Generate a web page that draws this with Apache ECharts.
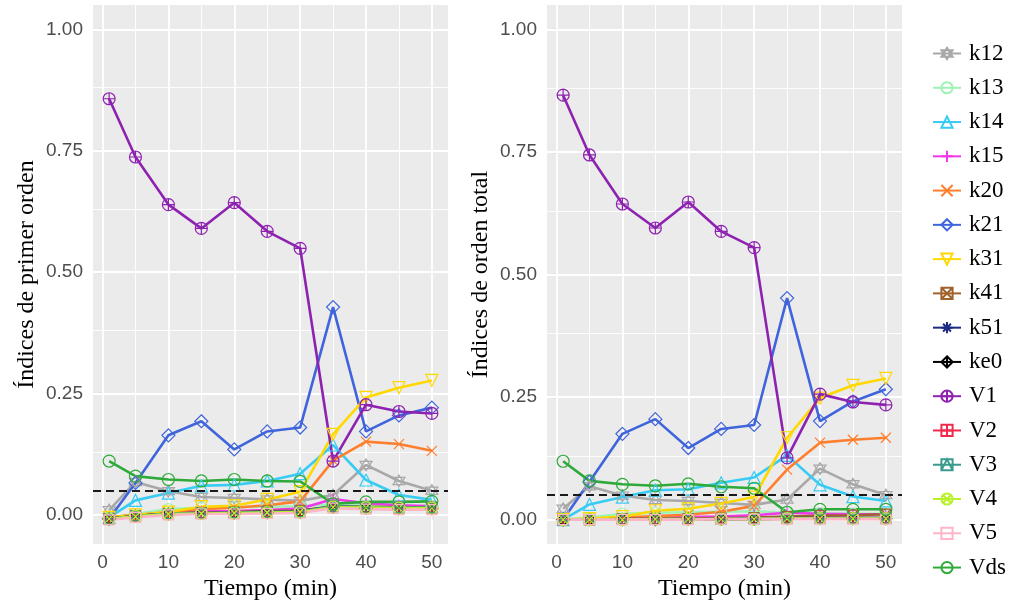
<!DOCTYPE html>
<html><head><meta charset="utf-8">
<script src="https://cdn.jsdelivr.net/npm/echarts@6/dist/echarts.min.js"></script>
<style>html,body{margin:0;padding:0;background:#fff}#c{width:1011px;height:606px}</style>
</head><body><div id="c"></div>
<script>
// ---------------- data ----------------
const tiempo = [1, 5, 10, 15, 20, 25, 30, 35, 40, 45, 50];
const parametros = ['k12','k13','k14','k15','k20','k21','k31','k41','k51','ke0','V1','V2','V3','V4','V5','Vds'];
const xTicks = [0, 10, 20, 30, 40, 50];
const yTicks = [0, 0.25, 0.5, 0.75, 1.0];
const xGrid = [0, 5, 10, 15, 20, 25, 30, 35, 40, 45, 50];
const yGrid = [0, 0.125, 0.25, 0.375, 0.5, 0.625, 0.75, 0.875, 1.0];
const umbral = 0.05;

// first-order indices (left panel)
const primer_k12 = [0.010, 0.068, 0.049, 0.037, 0.035, 0.032, 0.029, 0.041, 0.103, 0.070, 0.050];
const primer_k13 = [-0.005, 0.002, 0.012, 0.015, 0.016, 0.017, 0.018, 0.022, 0.020, 0.019, 0.019];
const primer_k14 = [-0.005, 0.030, 0.045, 0.060, 0.062, 0.070, 0.085, 0.144, 0.072, 0.041, 0.031];
const primer_k15 = [-0.005, 0.000, 0.004, 0.007, 0.008, 0.010, 0.013, 0.033, 0.024, 0.020, 0.018];
const primer_k20 = [-0.005, 0.000, 0.006, 0.012, 0.015, 0.020, 0.028, 0.112, 0.151, 0.146, 0.132];
const primer_k21 = [-0.008, 0.066, 0.164, 0.193, 0.135, 0.172, 0.180, 0.428, 0.172, 0.205, 0.221];
const primer_k31 = [-0.005, 0.000, 0.006, 0.017, 0.019, 0.032, 0.048, 0.166, 0.242, 0.262, 0.277];
const primer_k41 = [-0.008, -0.002, 0.003, 0.005, 0.006, 0.008, 0.009, 0.018, 0.017, 0.016, 0.016];
const primer_k51 = [-0.008, -0.002, 0.003, 0.004, 0.005, 0.007, 0.008, 0.017, 0.016, 0.015, 0.015];
const primer_ke0 = [-0.008, -0.003, 0.002, 0.003, 0.004, 0.005, 0.006, 0.016, 0.014, 0.013, 0.013];
const primer_V1  = [0.857, 0.737, 0.639, 0.590, 0.643, 0.584, 0.549, 0.111, 0.227, 0.213, 0.209];
const primer_V2  = [-0.008, -0.002, 0.002, 0.004, 0.005, 0.006, 0.007, 0.017, 0.015, 0.014, 0.014];
const primer_V3  = [-0.008, -0.002, 0.003, 0.004, 0.005, 0.006, 0.007, 0.018, 0.016, 0.015, 0.015];
const primer_V4  = [-0.008, -0.003, 0.002, 0.003, 0.004, 0.005, 0.006, 0.016, 0.015, 0.014, 0.014];
const primer_V5  = [-0.010, -0.005, 0.000, 0.002, 0.002, 0.003, 0.004, 0.014, 0.012, 0.011, 0.011];
const primer_Vds = [0.111, 0.080, 0.073, 0.070, 0.073, 0.070, 0.069, 0.023, 0.027, 0.027, 0.028];

// total-order indices (right panel)
const total_k12 = [0.022, 0.068, 0.049, 0.040, 0.038, 0.034, 0.030, 0.041, 0.104, 0.072, 0.050];
const total_k13 = [0.000, 0.004, 0.012, 0.014, 0.015, 0.016, 0.017, 0.014, 0.013, 0.012, 0.012];
const total_k14 = [0.000, 0.031, 0.046, 0.060, 0.062, 0.075, 0.086, 0.131, 0.071, 0.047, 0.038];
const total_k15 = [0.000, 0.001, 0.003, 0.004, 0.005, 0.006, 0.009, 0.014, 0.012, 0.011, 0.011];
const total_k20 = [0.000, 0.001, 0.004, 0.007, 0.010, 0.016, 0.028, 0.102, 0.157, 0.163, 0.167];
const total_k21 = [0.000, 0.077, 0.175, 0.205, 0.146, 0.185, 0.193, 0.452, 0.201, 0.241, 0.266];
const total_k31 = [0.000, 0.002, 0.006, 0.018, 0.022, 0.033, 0.046, 0.167, 0.248, 0.274, 0.288];
const total_k41 = [0.000, 0.000, 0.001, 0.002, 0.002, 0.003, 0.004, 0.006, 0.008, 0.009, 0.011];
const total_k51 = [0.000, 0.000, 0.000, 0.001, 0.001, 0.001, 0.002, 0.003, 0.003, 0.003, 0.003];
const total_ke0 = [0.000, 0.000, 0.000, 0.000, 0.001, 0.001, 0.001, 0.002, 0.002, 0.002, 0.002];
const total_V1  = [0.866, 0.744, 0.644, 0.595, 0.648, 0.588, 0.555, 0.126, 0.256, 0.240, 0.234];
const total_V2  = [0.000, 0.000, 0.001, 0.001, 0.001, 0.002, 0.002, 0.003, 0.003, 0.003, 0.003];
const total_V3  = [0.000, 0.000, 0.001, 0.001, 0.001, 0.001, 0.002, 0.003, 0.003, 0.003, 0.003];
const total_V4  = [0.000, 0.000, 0.000, 0.001, 0.001, 0.001, 0.001, 0.002, 0.002, 0.002, 0.002];
const total_V5  = [0.000, 0.000, 0.000, 0.000, 0.000, 0.001, 0.001, 0.001, 0.001, 0.001, 0.001];
const total_Vds = [0.119, 0.079, 0.072, 0.069, 0.073, 0.067, 0.064, 0.015, 0.021, 0.021, 0.021];

const primer = [primer_k12, primer_k13, primer_k14, primer_k15, primer_k20, primer_k21, primer_k31, primer_k41,
                primer_k51, primer_ke0, primer_V1, primer_V2, primer_V3, primer_V4, primer_V5, primer_Vds];
const total = [total_k12, total_k13, total_k14, total_k15, total_k20, total_k21, total_k31, total_k41,
               total_k51, total_ke0, total_V1, total_V2, total_V3, total_V4, total_V5, total_Vds];

// ---------------- styles ----------------
const colores = ['#A8A8A8', '#9EF2B6', '#38CBF3', '#F236EA', '#FF7F2E', '#3F64DC', '#FFD800', '#A0612C',
                 '#1B2A85', '#000000', '#8E22B0', '#F02A4C', '#3A9A8E', '#B8F02A', '#FFB4C8', '#2EAA3A'];
const C = 'M5,0C7.76,0,10,2.24,10,5C10,7.76,7.76,10,5,10C2.24,10,0,7.76,0,5C0,2.24,2.24,0,5,0Z';
const SQ = 'M0,0L10,0L10,10L0,10Z';
const PLUS = 'M5,0L5,10M0,5L10,5';
const XX = 'M0,0L10,10M10,0L0,10';
const DIA = 'M5,0L10,5L5,10L0,5Z';
const simbolos = [
  'path://M5,0L9.8,8L0.2,8ZM0.2,2L9.8,2L5,10Z',   // k12 triangles up/down
  'path://' + C,                                  // k13 circle
  'path://M5,0L10,9L0,9Z',                        // k14 triangle
  'path://' + PLUS,                               // k15 plus
  'path://' + XX,                                 // k20 cross
  'path://' + DIA,                                // k21 diamond
  'path://M0,0L10,0L5,9Z',                        // k31 triangle down
  'path://' + SQ + XX,                            // k41 square cross
  'path://' + PLUS + 'M1.5,1.5L8.5,8.5M8.5,1.5L1.5,8.5', // k51 asterisk
  'path://' + DIA + PLUS,                         // ke0 diamond plus
  'path://' + C + PLUS,                           // V1 circle plus
  'path://' + SQ + PLUS,                          // V2 square plus
  'path://' + SQ + 'M0,10L5,0L10,10',             // V3 square triangle
  'path://' + C + 'M1.46,1.46L8.54,8.54M8.54,1.46L1.46,8.54', // V4 circle cross
  'path://' + SQ,                                 // V5 square
  'path://' + C                                   // Vds circle
];
const tamanos = [12, 11, 12, 11, 10, 13, 12, 10, 11, 12, 12, 10, 10, 12, 10, 12];

const tickFont = {fontFamily: 'Liberation Sans', fontSize: 19, color: '#4D4D4D'};
const titleFont = {fontFamily: 'Liberation Serif', fontSize: 24, color: '#000'};

const grids = [
  {left: 93, top: 5, width: 355, height: 542, show: true, backgroundColor: '#EBEBEB', borderWidth: 0, z: 0},
  {left: 547, top: 5, width: 355, height: 542, show: true, backgroundColor: '#EBEBEB', borderWidth: 0, z: 0}
];
function xAxisFor(i) {
  return {
    type: 'value', gridIndex: i, min: -1.45, max: 52.45,
    name: 'Tiempo (min)', nameLocation: 'middle', nameGap: 31, nameTextStyle: titleFont,
    axisLine: {show: false}, splitLine: {show: false},
    axisTick: {show: true, length: 5, lineStyle: {color: '#333', width: 1.1}, customValues: xTicks},
    axisLabel: Object.assign({customValues: xTicks, margin: 9}, tickFont)
  };
}
function yAxisFor(i, name, mn) {
  return {
    type: 'value', gridIndex: i, min: mn, max: 1.05,
    name: name, nameLocation: 'middle', nameGap: 54, nameRotate: 90, nameTextStyle: titleFont,
    axisLine: {show: false}, splitLine: {show: false},
    axisTick: {show: true, length: 5, lineStyle: {color: '#333', width: 1.1}, customValues: yTicks},
    axisLabel: Object.assign({customValues: yTicks, margin: 10, formatter: v => v.toFixed(2)}, tickFont)
  };
}
function gridLines(i) {
  const d = [];
  xGrid.forEach(x => d.push({xAxis: x, lineStyle: {color: '#FFFFFF', width: x % 10 === 0 ? 1.8 : 0.9, type: 'solid', opacity: 1}}));
  yGrid.forEach((y, q) => d.push({yAxis: y, lineStyle: {color: '#FFFFFF', width: q % 2 === 0 ? 1.8 : 0.9, type: 'solid', opacity: 1}}));
  return {
    type: 'line', xAxisIndex: i, yAxisIndex: i, z: 3, silent: true,
    data: [], symbol: 'none',
    markLine: {silent: true, symbol: ['none', 'none'], label: {show: false}, animation: false, z: 3, data: d}
  };
}
function dashLine(i) {
  return {
    type: 'line', xAxisIndex: i, yAxisIndex: i, z: 8, silent: true,
    data: [], symbol: 'none',
    markLine: {silent: true, symbol: ['none', 'none'], label: {show: false}, animation: false, z: 8,
      data: [{yAxis: umbral, lineStyle: {color: '#1a1a1a', width: 1.8, type: [8, 5], opacity: 1}}]}
  };
}
const series = [gridLines(0), gridLines(1)];
[primer, total].forEach((set, g) => {
  set.forEach((vals, k) => {
    series.push({
      type: 'line', name: parametros[k], xAxisIndex: g, yAxisIndex: g, z: 5,
      data: tiempo.map((t, j) => [t, vals[j]]),
      symbol: simbolos[k], symbolSize: tamanos[k], showAllSymbol: true,
      lineStyle: {color: colores[k], width: 2.6},
      itemStyle: {color: 'none', borderColor: colores[k], borderWidth: 1.2},
      emphasis: {disabled: true}
    });
  });
});
series.push(dashLine(0), dashLine(1));

const chart = echarts.init(document.getElementById('c'), null, {renderer: 'canvas'});
chart.setOption({
  animation: false,
  backgroundColor: '#fff',
  grid: grids,
  xAxis: [xAxisFor(0), xAxisFor(1)],
  yAxis: [yAxisFor(0, 'Índices de primer orden', -0.06), yAxisFor(1, 'Índices de orden total', -0.05)],
  legend: {
    data: parametros, orient: 'vertical', left: 927, top: 37,
    itemWidth: 28, itemHeight: 14, itemGap: 11.27,
    textStyle: {fontFamily: 'Liberation Serif', fontSize: 23, color: '#000', padding: [0, 0, 0, 3]}
  },
  series: series
});
</script></body></html>
